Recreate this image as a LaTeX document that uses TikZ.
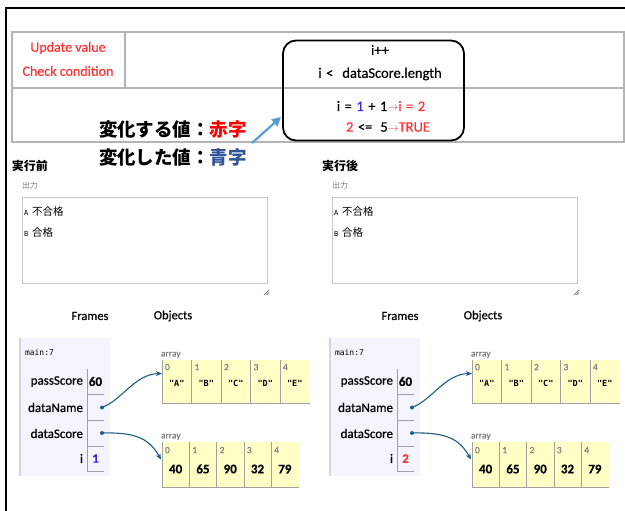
\documentclass[tikz,border=0pt]{standalone}
\usepackage{fontspec}
\setmainfont{Carlito}[FakeBold=0.5]
\newfontfamily\jp{Noto Sans CJK JP}
\newfontfamily\mn{DejaVu Sans Mono}
\usetikzlibrary{arrows.meta}
\definecolor{tgray}{HTML}{B4B4B4}
\definecolor{ured}{HTML}{FF3333}
\definecolor{vblue}{HTML}{2A2AFF}
\definecolor{jblue}{HTML}{2E5597}
\definecolor{abl}{HTML}{5B9BD5}
\definecolor{fbg}{HTML}{F3F4FC}
\definecolor{fline}{HTML}{D4D4E0}
\definecolor{heap}{HTML}{FFFFC6}
\definecolor{cline}{HTML}{A0A0A0}
\definecolor{ptr}{HTML}{1D5F86}
\definecolor{idxc}{HTML}{808080}
\definecolor{obox}{HTML}{C8C8C8}
\newcommand{\widesp}{\spaceskip=4.5pt plus 1pt\relax}
\tikzset{
  redtxt/.style={text=ured, font=\fontsize{14}{14}\selectfont},
  code/.style={font=\fontsize{14.5}{14.5}\selectfont\widesp},
  jlabel/.style={font=\jp\bfseries\fontsize{18.5}{18.5}\selectfont},
  ttl/.style={font=\jp\bfseries\fontsize{12}{12}\selectfont},
  lbl/.style={text=gray, font=\jp\fontsize{8}{8}\selectfont},
  outbox/.style={draw=obox, line width=1pt, minimum width=245pt, minimum height=85pt},
  otxt/.style={font=\fontsize{10.5}{10.5}\selectfont},
  hd/.style={font=\fontsize{12.5}{12.5}\selectfont},
  fpanel/.style={fill=fbg, minimum width=90pt, minimum height=138pt},
  mainlbl/.style={font=\mn\fontsize{8}{8}\selectfont},
  vname/.style={font=\fontsize{13}{13}\selectfont},
  vbox/.style={minimum width=17pt, minimum height=25pt, font=\bfseries\fontsize{13}{13}\selectfont},
  dotn/.style={circle, fill=ptr, minimum size=4pt},
  albl/.style={text=idxc, font=\fontsize{9.5}{9.5}\selectfont},
  cellA/.style={fill=heap, minimum width=29.5pt, minimum height=43pt},
  cellB/.style={fill=heap, minimum width=27.3pt, minimum height=45pt},
  idx/.style={text=idxc, font=\fontsize{9.5}{9.5}\selectfont},
  strv/.style={font=\mn\bfseries\fontsize{8.5}{8.5}\selectfont},
  numv/.style={font=\bfseries\fontsize{13}{13}\selectfont},
  ptrarrow/.style={draw=ptr, line width=1.1pt, -{Stealth[length=6pt,width=5pt]}},
}
\newcommand{\stateblock}[4]{%
\begin{scope}[xshift=#1pt, name prefix=#2-]
  \node[ttl, anchor=west] (ttl) at (12,166) {#3};
  \node[lbl, anchor=west] (out) at (22,185) {出力};
  \node[outbox] (box) at (144.5,240.5) {};
  \node[otxt, anchor=west] (la) at (24,212) {{\mn\fontsize{7}{7}\selectfont A}\hspace{4pt}{\jp 不合格}};
  \node[otxt, anchor=west] (lb) at (24,233) {{\mn\fontsize{7}{7}\selectfont B}\hspace{4pt}{\jp 合格}};
  \draw[gray, line width=0.8pt] (264,295) -- (269,290) (266.5,295) -- (269,292.5);
  \node[hd] (fr) at (90,316) {Frames};
  \node[hd] (ob) at (173,316) {Objects};
  \node[fpanel] (panel) at (65,407) {};
  \draw[fline, line width=1.2pt] (panel.north west) -- (panel.south west);
  \node[mainlbl, anchor=west] (main) at (25,353) {main:7};
  \foreach \nm/\yy/\vv [count=\c] in {passScore/381.5/60, dataName/407.5/{}, dataScore/433.5/{}, i/458.5/{#4}} {
    \node[vname, anchor=east] (n\c) at (83,\yy) {\nm};
    \node[vbox] (v\c) at (95.5,\yy) {\vv};
    \draw[cline, line width=0.7pt] (v\c.north west) -- (v\c.south west) -- (v\c.south east);
  }
  \node[dotn] (d2) at (102,407.5) {};
  \node[dotn] (d3) at (102,433) {};
  % array A
  \node[albl, anchor=south west] (arrA) at (161,358) {array};
  \foreach \v [count=\k from 0] in {"A","B","C","D","E"} {
    \node[cellA] (a\k) at ({176.75+29.5*\k},381.5) {};
    \draw[cline, line width=0.8pt] (a\k.north west) -- (a\k.south west) -- (a\k.south east);
    \node[idx, anchor=north west] (ai\k) at ([xshift=3pt,yshift=-4pt]a\k.north west) {\k};
    \node[strv] (av\k) at ([yshift=-2pt]a\k.center) {\v};
  }
  % array B
  \node[albl, anchor=south west] (arrB) at (161,440) {array};
  \foreach \v [count=\k from 0] in {40,65,90,32,79} {
    \node[cellB] (b\k) at ({175.65+27.3*\k},464.5) {};
    \draw[cline, line width=0.8pt] (b\k.north west) -- (b\k.south west) -- (b\k.south east);
    \node[idx, anchor=north west] (bi\k) at ([xshift=3pt,yshift=-5pt]b\k.north west) {\k};
    \node[numv] (bv\k) at ([yshift=-4.5pt]b\k.center) {\v};
  }
  \draw[ptrarrow] (d2.center) .. controls (122,400) and (135,374) .. ([yshift=8pt]a0.west);
  \draw[ptrarrow] (d3.center) .. controls (138,432) and (150,440) .. ([xshift=-1pt,yshift=5pt]b0.west);
\end{scope}}

\begin{document}
\begin{tikzpicture}[x=1pt, y=-1pt, every node/.style={inner sep=0pt, outer sep=0pt}]
\useasboundingbox (0,0) rectangle (625,511);
\fill[white] (0,0) rectangle (625,511);
\draw[line width=2.4pt] (6,512) -- (6,8) -- (626,8);
% table
\draw[tgray, line width=1.2pt] (12,32) rectangle (624,142);
\draw[tgray, line width=1.2pt] (12,88) -- (624,88);
\draw[tgray, line width=1.2pt] (125,32) -- (125,88);
\node[redtxt] (upd) at (68,48) {Update value};
\node[redtxt] (chk) at (68,71) {Check condition};
% condition box
\node[draw, line width=1.8pt, rounded corners=13pt, minimum width=181pt, minimum height=100pt] (cond) at (373.5,90.5) {};
\node[code] (inc) at (380,50) {i++};
\node[code] (cmp) at (380,74) {i <\hspace{9pt}dataScore.length};
\node[code] (l1) at (381,106) {i = \textcolor{vblue}{1} + 1\textcolor{ured}{{\fontsize{11}{11}\selectfont$\rightarrow$}i = 2}};
\node[code] (l2) at (388,127) {\textcolor{ured}{2} <=\hspace{8pt}5\textcolor{ured}{{\fontsize{11}{11}\selectfont$\rightarrow$}TRUE}};
% japanese legend
\node[jlabel, anchor=west] (chg1) at (99,130) {変化する値：\textcolor{red}{赤字}};
\node[jlabel, anchor=west] (chg2) at (99,157) {変化した値：\textcolor{jblue}{青字}};
\coordinate (pa) at (252,143);
\coordinate (pb) at (281,117);
\draw[abl, line width=2.2pt, -{Triangle[length=9pt,width=9pt]}] (pa) -- (pb);
\stateblock{0}{L}{実行前}{\textcolor{vblue}{1}}
\stateblock{310}{R}{実行後}{\textcolor{ured}{2}}
\end{tikzpicture}
\end{document}
